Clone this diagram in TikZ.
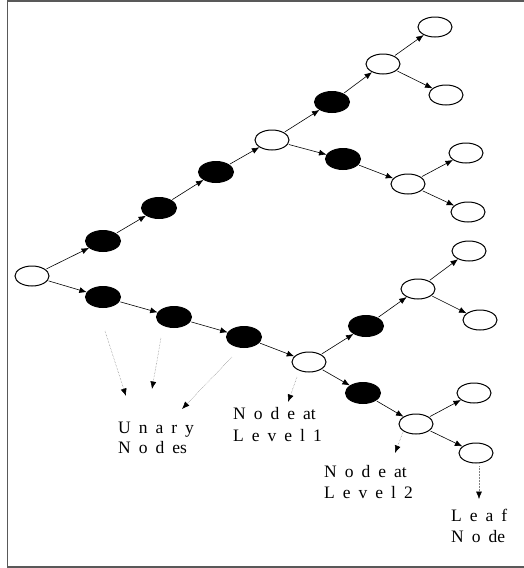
\documentclass[tikz,border=0pt]{standalone}
\usepackage{fontspec}
\setmainfont{Liberation Serif}
\usetikzlibrary{shapes.geometric,arrows.meta}
\newcommand{\lblfont}{\fontsize{17.5}{20}\selectfont\spaceskip=8pt\relax}
\tikzset{
  wnode/.style={ellipse,draw=black,line width=1pt,fill=white,minimum width=34pt,minimum height=20pt,inner sep=0pt},
  bnode/.style={ellipse,draw=black,line width=1pt,fill=black,minimum width=35pt,minimum height=21pt,inner sep=0pt},
  edge/.style={line width=0.6pt,-{Latex[length=7.5pt,width=6pt]},shorten <=1pt},
  note/.style={line width=0.5pt,draw=gray,densely dotted,-{Latex[length=7.5pt,width=6pt,fill=black,color=black]}},
  lbl/.style={anchor=base west,inner sep=0pt}
}
\begin{document}
\begin{tikzpicture}[x=1pt,y=-1pt]
\useasboundingbox (0,0) rectangle (524,568);
\draw[line width=1.2pt,color=black!65] (524,1) -- (7.5,1) -- (7.5,567) -- (524,567);
% nodes
\node[wnode] (root) at (32,276) {};
\node[bnode] (u1) at (103,241) {};
\node[bnode] (u2) at (159,208) {};
\node[bnode] (u3) at (216,172) {};
\node[wnode] (A) at (272,140) {};
\node[bnode] (ub) at (332,102) {};
\node[wnode] (B) at (383,64) {};
\node[wnode] (B1) at (435,27) {};
\node[wnode] (B2) at (446,95) {};
\node[bnode] (lb) at (343,159) {};
\node[wnode] (C) at (408,184) {};
\node[wnode] (C1) at (466,153) {};
\node[wnode] (C2) at (468,212) {};
\node[bnode] (l1) at (103,297) {};
\node[bnode] (l2) at (174,317) {};
\node[bnode] (l3) at (244,337) {};
\node[wnode] (D) at (309,362) {};
\node[bnode] (db) at (366,326) {};
\node[wnode] (E) at (418,289) {};
\node[wnode] (E1) at (469,251) {};
\node[wnode] (E2) at (480,320) {};
\node[bnode] (dc) at (363,393) {};
\node[wnode] (F) at (416,424) {};
\node[wnode] (F1) at (474,393) {};
\node[wnode] (F2) at (476,453) {};
% edges
\foreach \a/\b in {root/u1,u1/u2,u2/u3,u3/A,A/ub,ub/B,B/B1,B/B2,A/lb,lb/C,C/C1,C/C2,
  root/l1,l1/l2,l2/l3,l3/D,D/db,db/E,E/E1,E/E2,D/dc,dc/F,F/F1,F/F2}
  \draw[edge] (\a) -- (\b);
% annotation arrows
\coordinate (s1) at (105,331); \coordinate (t1) at (126,396);
\coordinate (s2) at (161,338); \coordinate (t2) at (152,389);
\coordinate (s3) at (232,357); \coordinate (t3) at (182,409);
\coordinate (s4) at (297,377); \coordinate (t4) at (288,402);
\coordinate (s5) at (403,432); \coordinate (t5) at (395,453);
\coordinate (s6) at (479,466); \coordinate (t6) at (479,499);
\foreach \i in {1,...,6}
  \draw[note] (s\i) -- (t\i);
% labels
\node[lbl] (un1) at (118,433) {\lblfont U n a r y};
\node[lbl] (un2) at (118,453) {\lblfont N o d es};
\node[lbl] (n11) at (233,419) {\lblfont N o d e at};
\node[lbl] (n12) at (233,441) {\lblfont L e v e l 1};
\node[lbl] (n21) at (324,477) {\lblfont N o d e at};
\node[lbl] (n22) at (324,498) {\lblfont L e v e l 2};
\node[lbl] (lf1) at (451,521) {\lblfont L e a f};
\node[lbl] (lf2) at (451,542) {\lblfont N o de};
\end{tikzpicture}
\end{document}
